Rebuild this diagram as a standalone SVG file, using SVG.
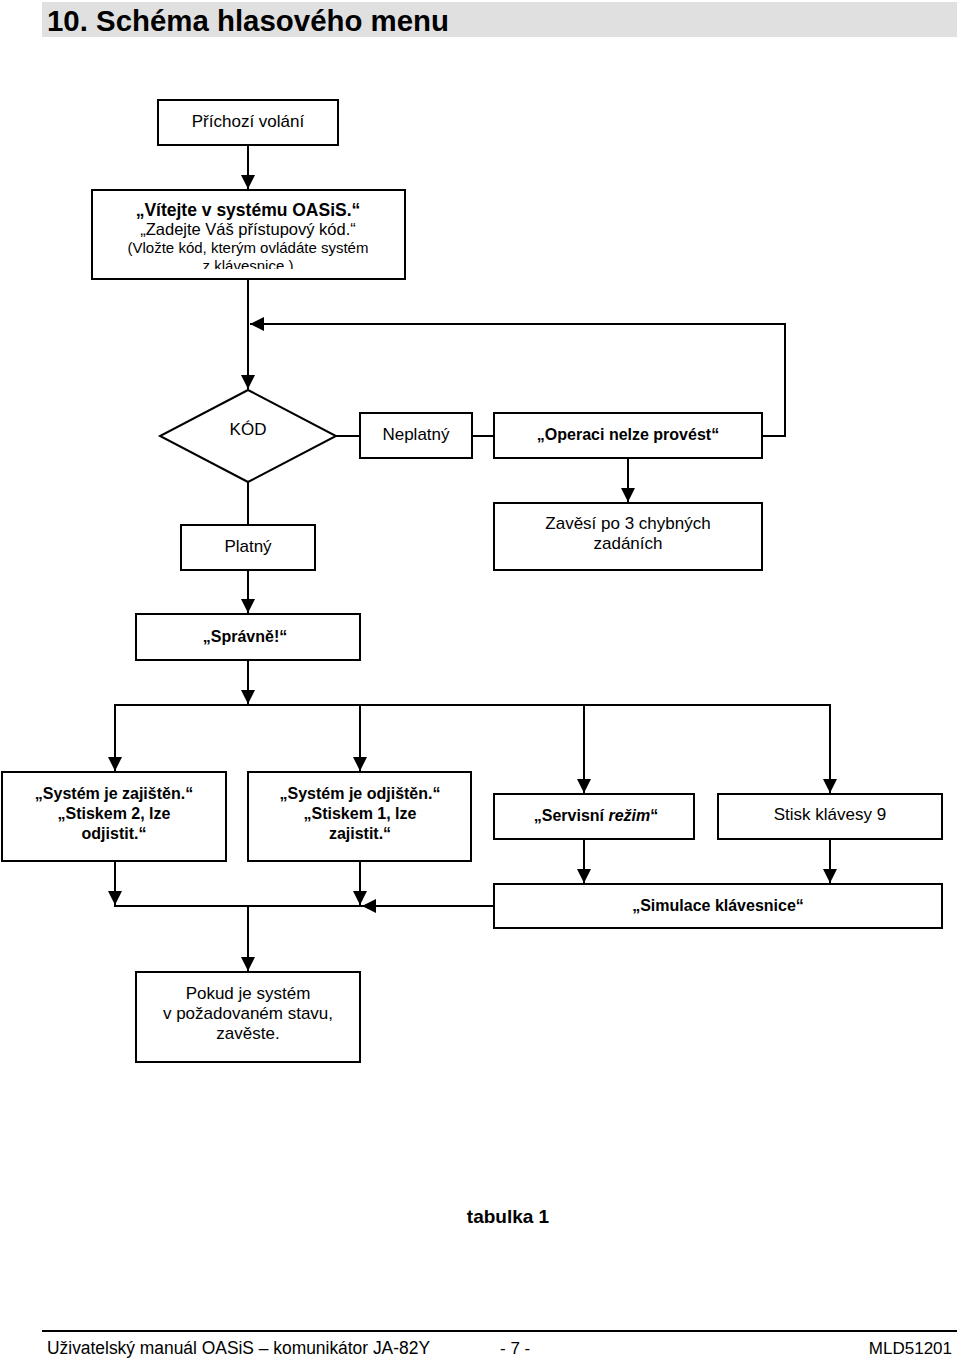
<svg xmlns="http://www.w3.org/2000/svg" width="960" height="1361" viewBox="0 0 960 1361">
<defs>
<marker id="arr" markerUnits="userSpaceOnUse" markerWidth="14" markerHeight="16" refX="14" refY="7" orient="auto">
<path d="M0,0 L14,7 L0,14 Z" fill="#000"/>
</marker>
<clipPath id="clipWelcome"><rect x="92" y="190" width="313" height="79"/></clipPath>
</defs>
<style>
.box{fill:#fff;stroke:#000;stroke-width:2}
.ln{fill:none;stroke:#000;stroke-width:2}
.t{font-family:"Liberation Sans",Arial,sans-serif;font-size:17px;fill:#000;text-anchor:middle}
.b{font-weight:bold;font-size:16px}
</style>
<rect width="960" height="1361" fill="#fff"/>
<g id="header">
<rect x="42" y="2" width="915" height="35" fill="#e0e0e0"/>
<text x="47" y="31" font-family="'Liberation Sans Narrow','Liberation Sans',Arial,sans-serif" font-size="29" font-weight="bold" textLength="402" lengthAdjust="spacingAndGlyphs">10. Schéma hlasového menu</text>
</g>
<g id="connectors">
<line class="ln" x1="248" y1="145" x2="248" y2="189" marker-end="url(#arr)"/>
<line class="ln" x1="248" y1="279" x2="248" y2="389" marker-end="url(#arr)"/>
<polyline class="ln" points="762,436 785,436 785,324 250,324" marker-end="url(#arr)"/>
<line class="ln" x1="336" y1="436" x2="360" y2="436"/>
<line class="ln" x1="472" y1="436" x2="494" y2="436"/>
<line class="ln" x1="628" y1="458" x2="628" y2="502" marker-end="url(#arr)"/>
<line class="ln" x1="248" y1="482" x2="248" y2="525"/>
<line class="ln" x1="248" y1="570" x2="248" y2="613" marker-end="url(#arr)"/>
<line class="ln" x1="248" y1="660" x2="248" y2="704" marker-end="url(#arr)"/>
<line class="ln" x1="114" y1="705" x2="831" y2="705"/>
<line class="ln" x1="115" y1="705" x2="115" y2="771" marker-end="url(#arr)"/>
<line class="ln" x1="360" y1="705" x2="360" y2="771" marker-end="url(#arr)"/>
<line class="ln" x1="584" y1="705" x2="584" y2="793" marker-end="url(#arr)"/>
<line class="ln" x1="830" y1="705" x2="830" y2="793" marker-end="url(#arr)"/>
<line class="ln" x1="584" y1="839" x2="584" y2="883" marker-end="url(#arr)"/>
<line class="ln" x1="830" y1="839" x2="830" y2="883" marker-end="url(#arr)"/>
<line class="ln" x1="115" y1="861" x2="115" y2="905" marker-end="url(#arr)"/>
<line class="ln" x1="360" y1="861" x2="360" y2="905" marker-end="url(#arr)"/>
<line class="ln" x1="114" y1="906" x2="362" y2="906"/>
<line class="ln" x1="494" y1="906" x2="362" y2="906" marker-end="url(#arr)"/>
<line class="ln" x1="248" y1="906" x2="248" y2="971" marker-end="url(#arr)"/>
</g>
<g id="n_prichozi">
<rect class="box" x="158" y="100" width="180" height="45"/>
<text class="t" x="248" y="127">Příchozí volání</text>
</g>
<g id="n_vitejte">
<rect class="box" x="92" y="190" width="313" height="89"/>
<g clip-path="url(#clipWelcome)">
<text class="t b" x="248" y="216" style="font-size:17.5px">„Vítejte v systému OASiS.“</text>
<text class="t" x="248" y="235" style="font-size:16.5px">„Zadejte Váš přístupový kód.“</text>
<text class="t" x="248" y="253" style="font-size:15px">(Vložte kód, kterým ovládáte systém</text>
<text class="t" x="248" y="271" style="font-size:15px">z klávesnice.)</text>
</g>
</g>
<g id="n_kod">
<polygon class="box" points="248,390 336,436 248,482 160,436"/>
<text class="t" x="248" y="435">KÓD</text>
</g>
<g id="n_neplatny">
<rect class="box" x="360" y="413" width="112" height="45"/>
<text class="t" x="416" y="440">Neplatný</text>
</g>
<g id="n_operaci">
<rect class="box" x="494" y="413" width="268" height="45"/>
<text class="t b" x="628" y="440">„Operaci nelze provést“</text>
</g>
<g id="n_zavesi">
<rect class="box" x="494" y="503" width="268" height="67"/>
<text class="t" x="628" y="529">Zavěsí po 3 chybných</text>
<text class="t" x="628" y="549">zadáních</text>
</g>
<g id="n_platny">
<rect class="box" x="181" y="525" width="134" height="45"/>
<text class="t" x="248" y="552">Platný</text>
</g>
<g id="n_spravne">
<rect class="box" x="136" y="614" width="224" height="46"/>
<text class="t b" x="245" y="642">„Správně!“</text>
</g>
<g id="n_zajisten">
<rect class="box" x="2" y="772" width="224" height="89"/>
<text class="t b" x="114" y="799">„Systém je zajištěn.“</text>
<text class="t b" x="114" y="819">„Stiskem 2, lze</text>
<text class="t b" x="114" y="839">odjistit.“</text>
</g>
<g id="n_odjisten">
<rect class="box" x="248" y="772" width="223" height="89"/>
<text class="t b" x="360" y="799">„Systém je odjištěn.“</text>
<text class="t b" x="360" y="819">„Stiskem 1, lze</text>
<text class="t b" x="360" y="839">zajistit.“</text>
</g>
<g id="n_servis">
<rect class="box" x="494" y="794" width="200" height="45"/>
<text class="t b" x="596" y="821">„Servisní <tspan font-style="italic">režim</tspan>“</text>
</g>
<g id="n_stisk9">
<rect class="box" x="718" y="794" width="224" height="45"/>
<text class="t" x="830" y="820">Stisk klávesy 9</text>
</g>
<g id="n_simulace">
<rect class="box" x="494" y="884" width="448" height="44"/>
<text class="t b" x="718" y="911">„Simulace klávesnice“</text>
</g>
<g id="n_pokud">
<rect class="box" x="136" y="972" width="224" height="90"/>
<text class="t" x="248" y="999">Pokud je systém</text>
<text class="t" x="248" y="1019">v požadovaném stavu,</text>
<text class="t" x="248" y="1039">zavěste.</text>
</g>
<g id="caption">
<text class="t b" x="508" y="1223" style="font-size:19px">tabulka 1</text>
</g>
<g id="footer">
<line x1="42" y1="1331" x2="957" y2="1331" stroke="#000" stroke-width="2"/>
<text x="47" y="1354" font-family="'Liberation Sans',Arial,sans-serif" font-size="18" textLength="383" lengthAdjust="spacingAndGlyphs">Uživatelský manuál OASiS – komunikátor JA-82Y</text>
<text x="500" y="1354" font-family="'Liberation Sans',Arial,sans-serif" font-size="17">- 7 -</text>
<text x="952" y="1354" font-family="'Liberation Sans',Arial,sans-serif" font-size="17" text-anchor="end">MLD51201</text>
</g>
</svg>
